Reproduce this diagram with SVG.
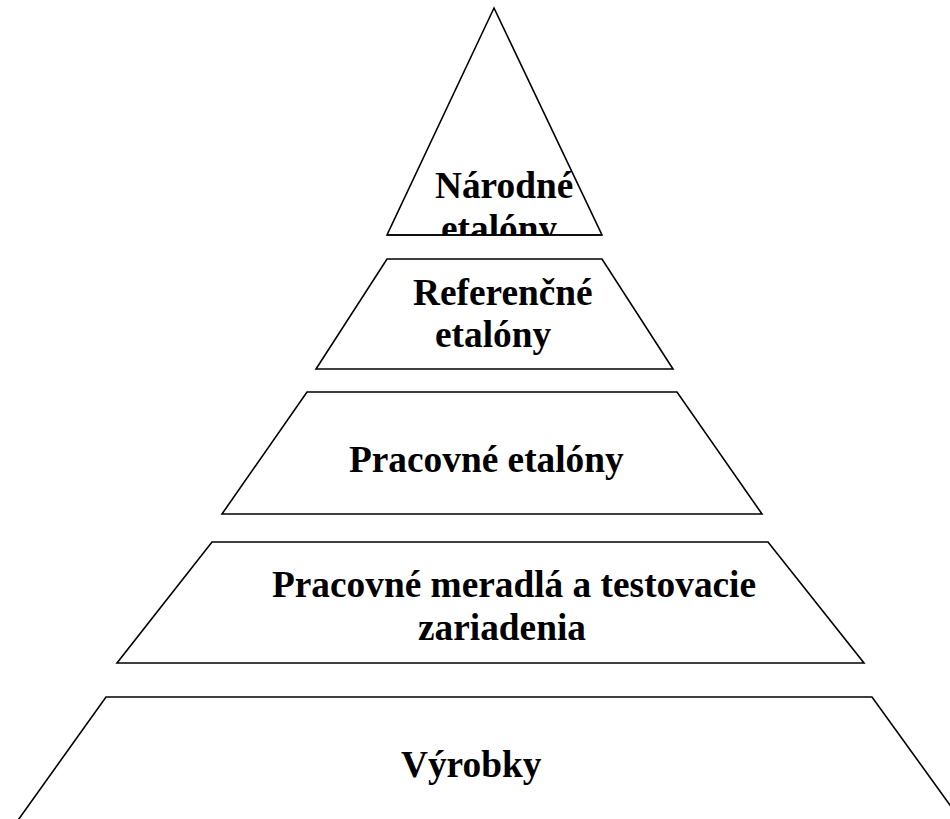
<svg xmlns="http://www.w3.org/2000/svg" width="950" height="819" viewBox="0 0 950 819">
<style>
.shape{fill:#fff;stroke:#000;stroke-width:1.6;stroke-linejoin:miter}
.lbl{font-family:"Liberation Serif","Times New Roman",serif;font-weight:bold;font-size:37.33px;fill:#000}
</style>
<defs>
<clipPath id="clipTop"><rect x="0" y="0" width="950" height="235"/></clipPath>
</defs>
<rect width="950" height="819" fill="#fff"/>
<g id="connectors"></g>
<g id="narodne">
<polygon class="shape" points="494,8 602,235 387,235"/>
<g clip-path="url(#clipTop)">
<text class="lbl" x="435" y="198">Národné</text>
<text class="lbl" x="441" y="241">etalóny</text>
</g>
<line x1="387" y1="235" x2="602" y2="235" stroke="#000" stroke-width="1.6"/>
</g>
<g id="referencne">
<polygon class="shape" points="387,259 602,259 673,369 316,369"/>
<text class="lbl" x="413" y="305">Referenčné</text>
<text class="lbl" x="435" y="347">etalóny</text>
</g>
<g id="pracovne-etalony">
<polygon class="shape" points="307,392 677,392 762,514 222,514"/>
<text class="lbl" x="349" y="472">Pracovné etalóny</text>
</g>
<g id="pracovne-meradla">
<polygon class="shape" points="212,542 768,542 864,663 117,663"/>
<text class="lbl" x="272" y="597">Pracovné meradlá a testovacie</text>
<text class="lbl" x="418" y="640">zariadenia</text>
</g>
<g id="vyrobky">
<polygon class="shape" points="106,697 872,697 968,830 11,830"/>
<text class="lbl" x="401" y="777">Výrobky</text>
</g>
</svg>
